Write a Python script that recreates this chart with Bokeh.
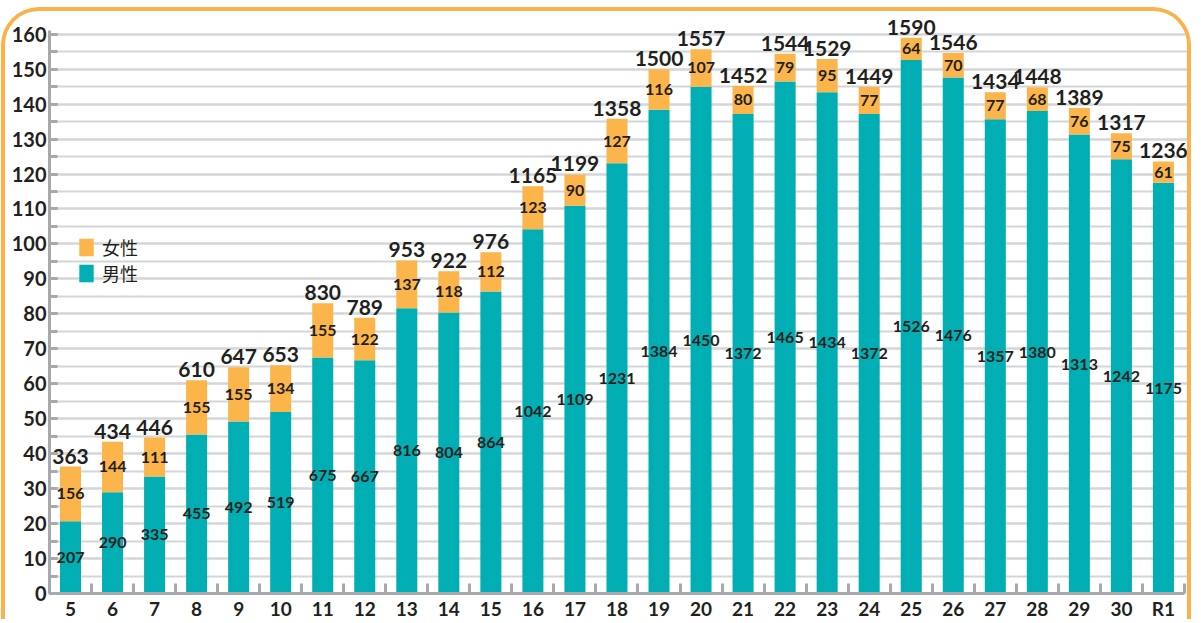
from bokeh.plotting import figure
from bokeh.models import ColumnDataSource, FixedTicker, Legend, LegendItem
from bokeh.core.properties import value
from bokeh.embed import file_html
from bokeh.resources import INLINE

categories = ["5", "6", "7", "8", "9", "10", "11", "12", "13", "14", "15", "16", "17",
              "18", "19", "20", "21", "22", "23", "24", "25", "26", "27", "28", "29", "30", "R1"]
male = [207, 290, 335, 455, 492, 519, 675, 667, 816, 804, 864, 1042, 1109, 1231, 1384,
        1450, 1372, 1465, 1434, 1372, 1526, 1476, 1357, 1380, 1313, 1242, 1175]
female = [156, 144, 111, 155, 155, 134, 155, 122, 137, 118, 112, 123, 90, 127, 116,
          107, 80, 79, 95, 77, 64, 70, 77, 68, 76, 75, 61]
y_ticks = list(range(0, 161, 10))
SCALE = 10  # axis is in units of 10

TEAL = "#00AEB3"
ORANGE = "#FBB54A"
GRAY = "#A7A9AC"
GRID = "#D4D5D7"
TXT = "#231F20"
FONT = "Lato"

x = list(range(len(categories)))
total = [m + f for m, f in zip(male, female)]
male_h = [m / SCALE for m in male]
total_h = [t / SCALE for t in total]
src = ColumnDataSource(dict(
    x=x,
    male_h=male_h,
    total_h=total_h,
    male_mid=[h / 2 for h in male_h],
    female_mid=[(a + b) / 2 for a, b in zip(male_h, total_h)],
    male_lbl=[str(v) for v in male],
    female_lbl=[str(v) for v in female],
    total_lbl=[str(v) for v in total],
))

n = len(categories)
p = figure(width=1190, height=612, x_range=(-0.5, n - 0.38), y_range=(0, 166.5),
           title=None, output_backend="svg", toolbar_location=None,
           min_border_left=44, min_border_right=6, min_border_top=0, min_border_bottom=30,
           styles={"margin": "7px 0 0 1px", "border": "4px solid #FCB24A", "border-bottom": "none",
                   "border-radius": "38px 38px 0 0", "overflow": "hidden",
                   "background-color": "white"})
p.outline_line_color = None
p.background_fill_color = "white"
p.border_fill_color = "white"

mr = p.vbar(x="x", bottom=0, top="male_h", width=0.5, fill_color=TEAL, line_color=None, source=src)
fr = p.vbar(x="x", bottom="male_h", top="total_h", width=0.5, fill_color=ORANGE, line_color=None, source=src)

common = dict(source=src, text_align="center", text_font=value(FONT), text_font_style="bold",
              text_color=TXT)
p.text(x="x", y="male_mid", text="male_lbl", text_baseline="middle", text_font_size="16px", **common)
p.text(x="x", y="female_mid", text="female_lbl", text_baseline="middle", text_font_size="16px", **common)
p.text(x="x", y="total_h", text="total_lbl", text_baseline="bottom", y_offset=-3,
       text_font_size="21px", **common)

# Y axis
p.yaxis.ticker = FixedTicker(ticks=y_ticks, minor_ticks=list(range(0, 161, 5)))
p.yaxis.bounds = (0, 161)
p.yaxis.axis_line_color = GRAY
p.yaxis.axis_line_width = 3
p.yaxis.major_tick_in = 8
p.yaxis.major_tick_out = 0
p.yaxis.minor_tick_in = 8
p.yaxis.minor_tick_out = 0
p.yaxis.major_tick_line_color = GRAY
p.yaxis.minor_tick_line_color = GRAY
p.yaxis.major_tick_line_width = 3
p.yaxis.minor_tick_line_width = 3
p.yaxis.major_label_text_font = FONT
p.yaxis.major_label_text_font_style = "bold"
p.yaxis.major_label_text_font_size = "20px"
p.yaxis.major_label_text_color = TXT
p.yaxis.major_label_standoff = 3

p.ygrid.ticker = FixedTicker(ticks=y_ticks, minor_ticks=list(range(0, 161, 5)))
p.ygrid.grid_line_color = GRID
p.ygrid.grid_line_width = 2
p.ygrid.minor_grid_line_color = GRID
p.ygrid.minor_grid_line_width = 2
p.xgrid.grid_line_color = None

# X axis
p.xaxis.ticker = FixedTicker(ticks=x, minor_ticks=[i + 0.5 for i in range(-1, n)])
p.xaxis.bounds = (-0.5, n - 0.5)
p.xaxis.major_label_overrides = {i: c for i, c in enumerate(categories)}
p.xaxis.axis_line_color = GRAY
p.xaxis.axis_line_width = 3
p.xaxis.major_tick_in = 0
p.xaxis.major_tick_out = 0
p.xaxis.minor_tick_in = 10
p.xaxis.minor_tick_out = 0
p.xaxis.minor_tick_line_color = GRAY
p.xaxis.minor_tick_line_width = 3
p.xaxis.major_label_text_font = FONT
p.xaxis.major_label_text_font_style = "bold"
p.xaxis.major_label_text_font_size = "19px"
p.xaxis.major_label_text_color = TXT
p.xaxis.major_label_standoff = 3

legend = Legend(items=[LegendItem(label="女性", renderers=[fr]), LegendItem(label="男性", renderers=[mr])],
                location=(28, 307), glyph_width=18, glyph_height=22, label_height=22, spacing=0,
                padding=0, margin=0, label_standoff=7,
                label_text_font="Noto Sans CJK JP", label_text_font_size="18px",
                label_text_color=TXT, background_fill_alpha=0, border_line_color=None)
p.add_layout(legend)

html = file_html(p, INLINE)
html = html.replace("<body>", '<body style="background-color:#FFF7D9">', 1)
open("out.html", "w").write(html)
